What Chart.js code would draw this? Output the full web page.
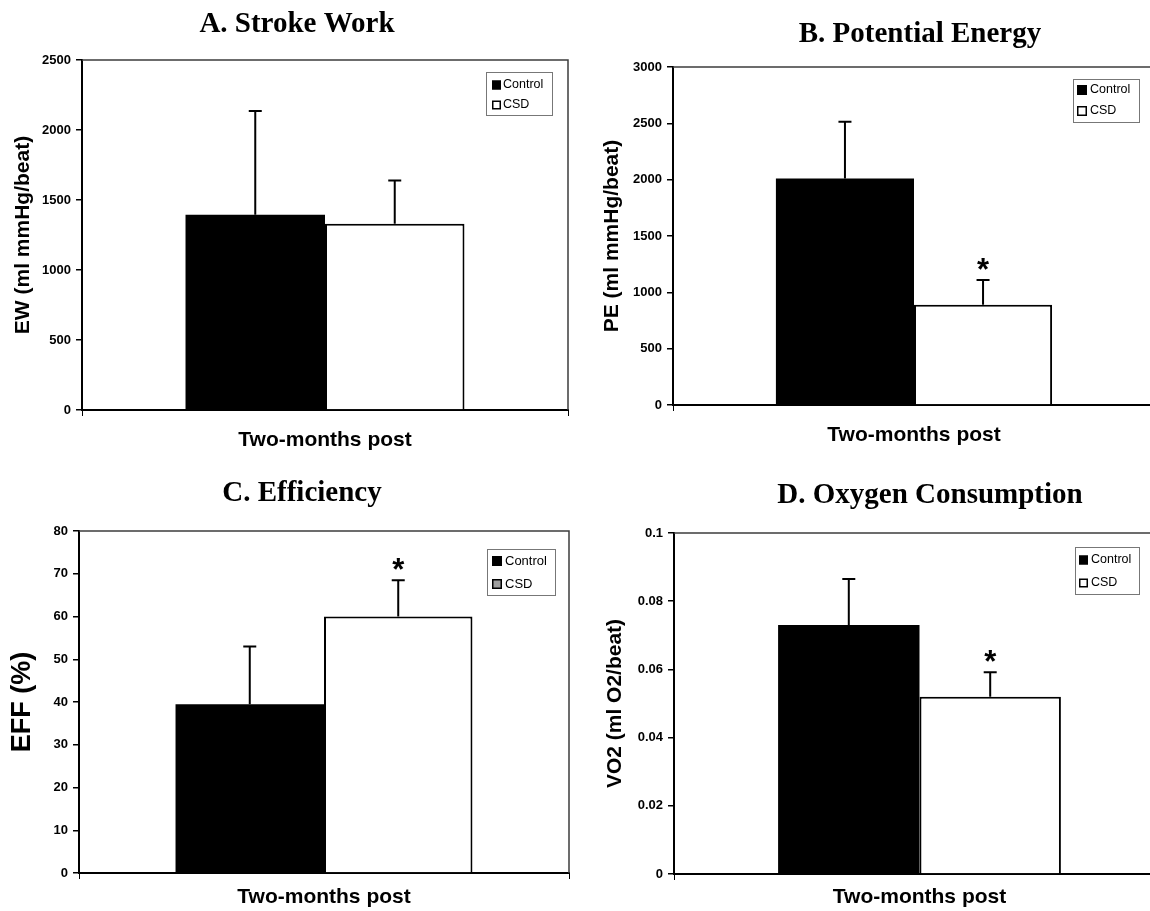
<!DOCTYPE html>
<html>
<head>
<meta charset="utf-8">
<title>Cardiac energetics, two months post</title>
<script src="https://cdn.jsdelivr.net/npm/chart.js@4.4.1/dist/chart.umd.min.js"></script>
<style>
  html, body { margin: 0; padding: 0; background: #fff; width: 1150px; height: 911px; overflow: hidden; }
  .panel { position: absolute; }
  canvas { display: block; }
</style>
</head>
<body>
<div class="panel" style="left:0;top:0"><canvas id="ew" width="580" height="465"></canvas></div>
<div class="panel" style="left:580px;top:0"><canvas id="pe" width="600" height="465"></canvas></div>
<div class="panel" style="left:0;top:465px"><canvas id="eff" width="580" height="446"></canvas></div>
<div class="panel" style="left:580px;top:465px"><canvas id="vo2" width="600" height="446"></canvas></div>
<script>
// groups and time point
const groups = ['Control', 'CSD'];
const period = ['Two-months post'];

// A. stroke work (mean, SD)
const ewMean = [1395, 1330];
const ewSD = [740, 310];
const ewStar = [false, false];
const ewTicks = ['0', '500', '1000', '1500', '2000', '2500'];

// B. potential energy
const peMean = [2010, 890];
const peSD = [505, 220];
const peStar = [false, true];
const peTicks = ['0', '500', '1000', '1500', '2000', '2500', '3000'];

// C. efficiency
const effMean = [39.5, 60];
const effSD = [13.5, 8.5];
const effStar = [false, true];
const effTicks = ['0', '10', '20', '30', '40', '50', '60', '70', '80'];

// D. oxygen consumption
const vo2Mean = [0.073, 0.052];
const vo2SD = [0.0135, 0.0072];
const vo2Star = [false, true];
const vo2Ticks = ['0', '0.02', '0.04', '0.06', '0.08', '0.1'];

const SANS = '"Liberation Sans", Arial, Helvetica, sans-serif';
const SERIF = '"Liberation Serif", "Times New Roman", serif';

// panel heading in Times-style bold
const heading = {
  id: 'heading',
  afterDraw(chart, args, o) {
    const ctx = chart.ctx;
    ctx.save();
    ctx.font = `bold ${o.size}px ${SERIF}`;
    ctx.fillStyle = '#000';
    ctx.textAlign = 'center';
    ctx.textBaseline = 'alphabetic';
    ctx.fillText(o.text, o.x, o.y);
    ctx.restore();
  }
};

// thin frame along the top and right of the plot area
const frame = {
  id: 'frame',
  afterDatasetsDraw(chart) {
    const { ctx, chartArea: a } = chart;
    ctx.save();
    ctx.strokeStyle = '#3c3c3c';
    ctx.lineWidth = 1.5;
    ctx.beginPath();
    ctx.moveTo(a.left, a.top);
    ctx.lineTo(a.right, a.top);
    ctx.lineTo(a.right, a.bottom);
    ctx.stroke();
    ctx.restore();
  }
};

// upward SD whiskers with a cap, plus a significance asterisk
const errorBars = {
  id: 'errorBars',
  afterDatasetsDraw(chart, args, o) {
    const ctx = chart.ctx;
    const y = chart.scales.y;
    ctx.save();
    chart.data.datasets.forEach((ds, i) => {
      const meta = chart.getDatasetMeta(i);
      meta.data.forEach((bar, j) => {
        const top = y.getPixelForValue(ds.data[j] + ds.sd[j]);
        const x = bar.x;
        ctx.strokeStyle = '#000';
        ctx.lineWidth = o.width;
        ctx.beginPath();
        ctx.moveTo(x, bar.y);
        ctx.lineTo(x, top);
        ctx.moveTo(x - o.cap / 2, top);
        ctx.lineTo(x + o.cap / 2, top);
        ctx.stroke();
        if (ds.star && ds.star[j]) {
          ctx.font = `bold ${o.starSize}px ${SANS}`;
          ctx.fillStyle = '#000';
          ctx.textAlign = 'center';
          ctx.textBaseline = 'alphabetic';
          const m = ctx.measureText('*');
          const cy = top - o.starGap;
          ctx.fillText('*', x, cy + (m.actualBoundingBoxAscent - m.actualBoundingBoxDescent) / 2);
        }
      });
    });
    ctx.restore();
  }
};

// boxed legend inside the plot area
const boxLegend = {
  id: 'boxLegend',
  afterDraw(chart, args, o) {
    const ctx = chart.ctx;
    ctx.save();
    ctx.strokeStyle = '#777';
    ctx.lineWidth = 1;
    ctx.strokeRect(o.x + 0.5, o.y + 0.5, o.w, o.h);
    ctx.font = `${o.size}px ${SANS}`;
    ctx.textAlign = 'left';
    ctx.textBaseline = 'middle';
    chart.data.datasets.forEach((ds, i) => {
      const cy = o.rows[i];
      const s = o.swatch;
      ctx.fillStyle = o.fills[i];
      ctx.fillRect(o.swatchX, cy - s / 2, s, s);
      ctx.strokeStyle = '#000';
      ctx.lineWidth = 1.5;
      ctx.strokeRect(o.swatchX + 0.75, cy - s / 2 + 0.75, s - 1.5, s - 1.5);
      ctx.fillStyle = '#000';
      ctx.fillText(ds.label, o.textX, cy);
    });
    ctx.restore();
  }
};

function makePanel(id, p) {
  const datasets = groups.map((g, i) => ({
    label: g,
    data: [p.mean[i]],
    sd: [p.sd[i]],
    star: [p.star[i]],
    backgroundColor: i === 0 ? '#000' : '#fff',
    borderColor: '#000',
    borderWidth: i === 0 ? 0 : 2,
    borderSkipped: 'bottom',
    categoryPercentage: p.frac,
    barPercentage: 1
  }));

  return new Chart(document.getElementById(id), {
    type: 'bar',
    data: { labels: period, datasets },
    plugins: [heading, frame, errorBars, boxLegend],
    options: {
      responsive: false,
      animation: false,
      events: [],
      layout: { padding: { top: p.top, right: p.right, left: 0, bottom: 0 } },
      scales: {
        x: {
          type: 'category',
          offset: true,
          grid: { display: true, offset: true, drawOnChartArea: false, drawTicks: true, tickLength: 6, color: '#000', lineWidth: 1 },
          border: { display: true, color: '#000', width: 2 },
          ticks: {
            color: '#000',
            font: { family: SANS, size: 21, weight: 'bold' },
            padding: p.xPad,
            maxRotation: 0,
            autoSkip: false
          },
          afterFit(s) { s.height = p.xHeight; }
        },
        y: {
          min: 0,
          max: p.max,
          grid: { drawOnChartArea: false, drawTicks: true, tickLength: 6, color: '#000', lineWidth: 1.5 },
          border: { display: true, color: '#000', width: 2 },
          ticks: {
            stepSize: p.step,
            color: '#000',
            padding: 5,
            font: { family: SANS, size: 13, weight: 'bold' },
            callback: (v, i) => p.tickLabels[i]
          },
          title: {
            display: true,
            text: p.yTitle,
            color: '#000',
            font: { family: SANS, size: p.yTitleSize, weight: 'bold' },
            padding: { top: p.yTitlePad, bottom: 0 }
          },
          afterFit(s) { s.width = p.axisWidth; }
        }
      },
      plugins: {
        legend: { display: false },
        tooltip: { enabled: false },
        title: { display: false },
        heading: { text: p.heading, x: p.headX, y: p.headY, size: 29 },
        errorBars: { width: 2, cap: 13, starSize: 31, starGap: 16 },
        boxLegend: p.legend
      }
    }
  });
}

makePanel('ew', {
  heading: 'A. Stroke Work', headX: 297, headY: 32,
  mean: ewMean, sd: ewSD, star: ewStar,
  max: 2500, step: 500, tickLabels: ewTicks,
  yTitle: 'EW (ml mmHg/beat)', yTitleSize: 21, yTitlePad: 11,
  axisWidth: 82, top: 60, right: 12, xHeight: 55, xPad: 12, frac: 0.574,
  legend: { x: 486, y: 72, w: 66, h: 43, rows: [85, 105], swatchX: 492, swatch: 9, textX: 503, size: 12.5, fills: ['#000', '#fff'] }
});

makePanel('pe', {
  heading: 'B. Potential Energy', headX: 340, headY: 42,
  mean: peMean, sd: peSD, star: peStar,
  max: 3000, step: 500, tickLabels: peTicks,
  yTitle: 'PE (ml mmHg/beat)', yTitleSize: 21, yTitlePad: 20,
  axisWidth: 93, top: 67, right: 25, xHeight: 60, xPad: 12, frac: 0.573,
  legend: { x: 493, y: 79, w: 66, h: 43, rows: [90, 111], swatchX: 497, swatch: 10, textX: 510, size: 12.5, fills: ['#000', '#fff'] }
});

makePanel('eff', {
  heading: 'C. Efficiency', headX: 302, headY: 36,
  mean: effMean, sd: effSD, star: effStar,
  max: 80, step: 10, tickLabels: effTicks,
  yTitle: 'EFF (%)', yTitleSize: 27, yTitlePad: 6,
  axisWidth: 79, top: 66, right: 11, xHeight: 38, xPad: 6, frac: 0.606,
  legend: { x: 487, y: 84, w: 68, h: 46, rows: [96, 119], swatchX: 492, swatch: 10, textX: 505, size: 13, fills: ['#000', '#a0a0a0'] }
});

makePanel('vo2', {
  heading: 'D. Oxygen Consumption', headX: 350, headY: 38,
  mean: vo2Mean, sd: vo2SD, star: vo2Star,
  max: 0.1, step: 0.02, tickLabels: vo2Ticks,
  yTitle: 'VO2 (ml O2/beat)', yTitleSize: 21, yTitlePad: 23,
  axisWidth: 94, top: 68, right: 15, xHeight: 37, xPad: 5, frac: 0.576,
  legend: { x: 495, y: 82, w: 64, h: 47, rows: [95, 118], swatchX: 499, swatch: 9, textX: 511, size: 12.5, fills: ['#000', '#fff'] }
});
</script>
</body>
</html>
